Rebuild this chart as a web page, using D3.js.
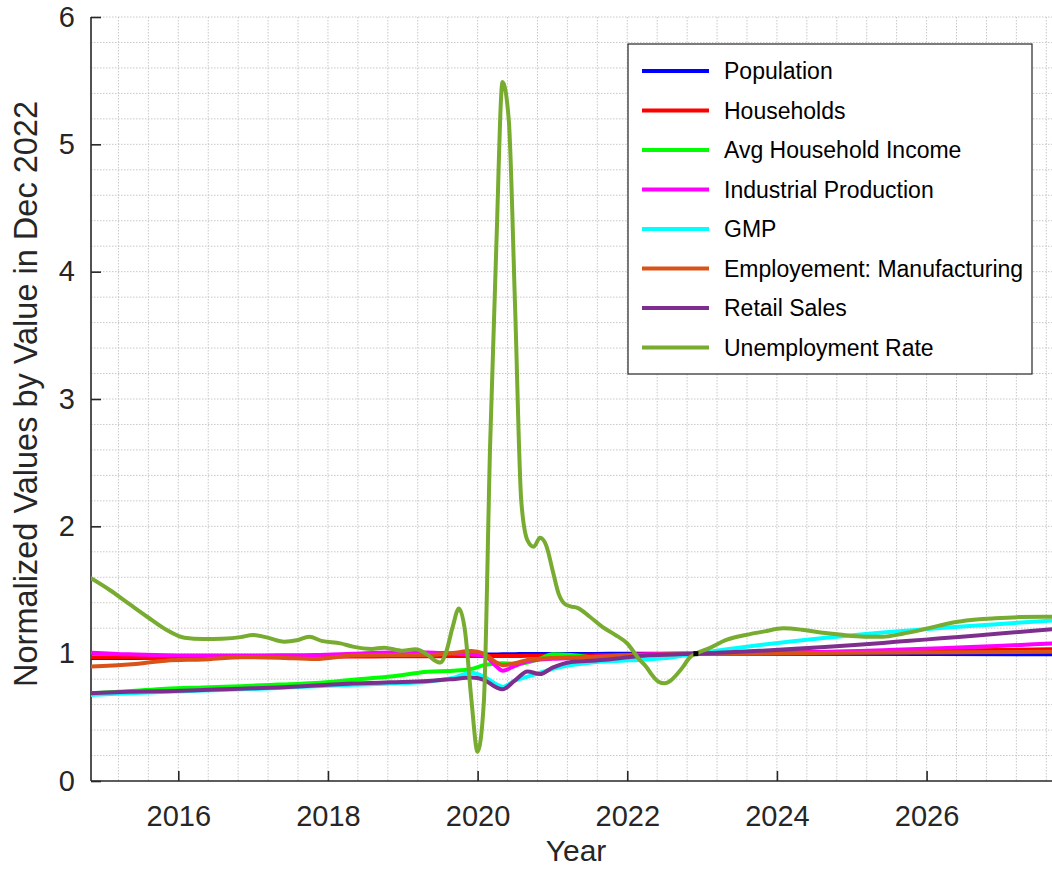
<!DOCTYPE html>
<html>
<head>
<meta charset="utf-8">
<script src="https://cdn.jsdelivr.net/npm/d3@7"></script>
<style>
  body { margin: 0; background: #fff; }
  text { font-family: "Liberation Sans", Arial, Helvetica, sans-serif; fill: #262626; }
</style>
</head>
<body>
<svg id="chart" width="1052" height="869"></svg>
<script>
// ---- data: normalized indicators (value / value in Dec 2022) ----
const seriesNames = ["Population", "Households", "Avg Household Income", "Industrial Production",
                     "GMP", "Employement: Manufacturing", "Retail Sales", "Unemployment Rate"];
const seriesColors = ["#0000ff", "#ff0000", "#00ff00", "#ff00ff", "#00ffff", "#d95319", "#7e2f8e", "#77ac30"];

// observation months shared by the first seven indicators
const months = ["2014-11", "2015-05", "2015-11", "2016-05", "2016-11", "2017-05", "2017-11", "2018-05",
                "2018-11", "2019-05", "2019-09", "2019-12", "2020-02", "2020-04", "2020-05", "2020-07",
                "2020-09", "2020-11", "2021-01", "2021-04", "2021-08", "2021-12", "2022-04", "2022-08",
                "2022-12", "2027-12"];

const population = [0.965, 0.966, 0.968, 0.970, 0.973, 0.976, 0.979, 0.982, 0.985, 0.988, 0.990, 0.992, 0.993,
                    0.994, 0.995, 0.996, 0.997, 0.997, 0.998, 0.998, 0.998, 0.999, 0.999, 1.000, 1.000, 0.995];
const households = [0.972, 0.972, 0.973, 0.974, 0.975, 0.976, 0.977, 0.978, 0.979, 0.980, 0.981, 0.982, 0.982,
                    0.982, 0.982, 0.982, 0.983, 0.983, 0.984, 0.985, 0.987, 0.990, 0.994, 0.997, 1.000, 1.036];
const avgHouseholdIncome = [0.690, 0.705, 0.725, 0.735, 0.745, 0.757, 0.770, 0.795, 0.820, 0.858, 0.865, 0.880, 0.910,
                    0.922, 0.924, 0.920, 0.930, 0.960, 0.995, 0.990, 0.970, 0.975, 0.985, 0.990, 1.000, null];
const industrialProduction = [1.008, 0.995, 0.988, 0.985, 0.985, 0.987, 0.990, 1.000, 1.010, 1.010, 1.000, 0.995, 0.985,
                    0.900, 0.866, 0.905, 0.940, 0.955, 0.960, 0.965, 0.975, 0.985, 0.995, 1.000, 1.000, 1.085];
const gmp = [0.675, 0.690, 0.700, 0.710, 0.720, 0.730, 0.745, 0.755, 0.765, 0.780, 0.810, 0.850, 0.820,
             0.760, 0.740, 0.790, 0.820, 0.850, 0.880, 0.910, 0.935, 0.945, 0.955, 0.970, 1.000, 1.270];
const employmentManufacturing = [0.900, 0.915, 0.945, 0.955, 0.972, 0.968, 0.958, 0.985, 0.990, 0.990, 1.005, 1.020, 1.000,
                    0.930, 0.910, 0.925, 0.950, 0.960, 0.965, 0.970, 0.975, 0.985, 0.990, 0.995, 1.000, 1.016];
const retailSales = [0.690, 0.700, 0.705, 0.715, 0.725, 0.735, 0.750, 0.765, 0.775, 0.785, 0.800, 0.813, 0.795,
                     0.735, 0.720, 0.790, 0.860, 0.840, 0.890, 0.935, 0.947, 0.965, 0.985, 0.993, 1.000, 1.204];

// unemployment rate has its own, denser set of months
const unempMonths = ["2014-11", "2015-02", "2015-05", "2015-08", "2015-11", "2016-02", "2016-05", "2016-08",
                     "2016-11", "2017-01", "2017-03", "2017-06", "2017-08", "2017-10", "2017-12", "2018-03",
                     "2018-05", "2018-08", "2018-10", "2019-01", "2019-03", "2019-05", "2019-06", "2019-07",
                     "2019-08", "2019-09", "2019-10", "2019-11", "2019-12", "2020-01", "2020-02", "2020-03",
                     "2020-04", "2020-05", "2020-06", "2020-07", "2020-08", "2020-09", "2020-10", "2020-11",
                     "2020-12", "2021-01", "2021-02", "2021-03", "2021-04", "2021-05", "2021-07", "2021-09",
                     "2021-11", "2022-01", "2022-03", "2022-04", "2022-05", "2022-06", "2022-07", "2022-08",
                     "2022-09", "2022-10", "2022-11", "2022-12", "2023-02", "2023-05", "2023-08", "2023-11",
                     "2024-02", "2024-05", "2024-08", "2024-11", "2025-03", "2025-06", "2025-09", "2025-12",
                     "2026-03", "2026-06", "2026-09", "2026-12", "2027-04", "2027-08", "2027-12"];
const unemploymentRate = [1.592, 1.500, 1.395, 1.290, 1.190, 1.125, 1.115, 1.118, 1.130, 1.147, 1.130, 1.094,
                          1.105, 1.133, 1.100, 1.081, 1.055, 1.037, 1.047, 1.023, 1.034, 0.990, 0.950, 0.930,
                          1.020, 1.210, 1.355, 1.170, 0.640, 0.230, 0.620, 2.630, 4.200, 5.490, 5.190, 3.740,
                          2.200, 1.890, 1.840, 1.910, 1.850, 1.660, 1.470, 1.390, 1.370, 1.360, 1.290, 1.210,
                          1.150, 1.080, 0.950, 0.900, 0.830, 0.780, 0.767, 0.790, 0.840, 0.900, 0.970, 1.000,
                          1.040, 1.110, 1.147, 1.175, 1.199, 1.188, 1.167, 1.150, 1.133, 1.133, 1.155, 1.185,
                          1.220, 1.250, 1.268, 1.278, 1.287, 1.290, 1.290];

const referenceMonth = "2022-12";
const xTickYears = [2016, 2018, 2020, 2022, 2024, 2026];
const yTickValues = [0, 1, 2, 3, 4, 5, 6];

// ---- helpers ----
const toYear = s => +s.slice(0, 4) + (+s.slice(5, 7) - 1) / 12;

const seriesValues = [population, households, avgHouseholdIncome, industrialProduction,
                      gmp, employmentManufacturing, retailSales, unemploymentRate];
const series = seriesNames.map((name, i) => {
  const m = i === 7 ? unempMonths : months;
  return {
    name, color: seriesColors[i],
    points: m.map((d, j) => ({ t: toYear(d), v: seriesValues[i][j] })).filter(p => p.v != null)
  };
});

// ---- layout ----
const svg = d3.select("#chart");
const plot = { left: 91, right: 1070, top: 17, bottom: 781 };

const x = d3.scaleLinear().domain([toYear("2014-11"), toYear("2027-12")]).range([plot.left, plot.right]);
const y = d3.scaleLinear().domain([0, 6]).range([plot.bottom, plot.top]);

svg.append("defs").append("clipPath").attr("id", "plotClip")
  .append("rect").attr("x", plot.left).attr("y", plot.top - 2)
  .attr("width", plot.right - plot.left).attr("height", plot.bottom - plot.top + 2);

// ---- grid (dotted) ----
const grid = svg.append("g").attr("stroke", "#c8c8c8").attr("stroke-width", 1)
  .attr("stroke-dasharray", "1.5,1.5");
const gridX = d3.range(-5, 30).map(k => 2016 + 0.4 * k).filter(t => x(t) > plot.left + 1 && x(t) <= plot.right);
const gridY = d3.range(1, 31).map(k => k * 0.2);
grid.selectAll(".gx").data(gridX).join("line")
  .attr("x1", d => x(d)).attr("x2", d => x(d)).attr("y1", plot.top).attr("y2", plot.bottom);
grid.selectAll(".gy").data(gridY).join("line")
  .attr("x1", plot.left).attr("x2", plot.right).attr("y1", d => y(d)).attr("y2", d => y(d));

// ---- axes ----
const xAxis = d3.axisBottom(x).tickValues(xTickYears).tickFormat(d3.format("d")).tickSize(-10).tickPadding(24);
const yAxis = d3.axisLeft(y).tickValues(yTickValues).tickFormat(d3.format("d")).tickSize(-10).tickPadding(16);

const gx = svg.append("g").attr("transform", `translate(0,${plot.bottom})`).call(xAxis);
const gy = svg.append("g").attr("transform", `translate(${plot.left},0)`).call(yAxis);
[gx, gy].forEach(g => {
  g.select(".domain").attr("stroke", "#262626").attr("stroke-width", 1.6);
  g.selectAll(".tick line").attr("stroke", "#262626").attr("stroke-width", 1.6);
  g.selectAll(".tick text").attr("fill", "#262626").style("font-size", "29px")
    .style("font-family", "'Liberation Sans', Arial, sans-serif");
});
gx.select(".domain").attr("d", `M${plot.left},0H${plot.right}`);
gy.select(".domain").attr("d", `M0,${plot.top}V${plot.bottom}`);

// axis titles
svg.append("text").attr("x", 576).attr("y", 861)
  .attr("text-anchor", "middle").style("font-size", "30px").text("Year");
svg.append("text").attr("transform", `translate(37,394) rotate(-90)`)
  .attr("text-anchor", "middle").style("font-size", "32.5px").text("Normalized Values by Value in Dec 2022");

// ---- series lines ----
const line = d3.line().x(p => x(p.t)).y(p => y(p.v)).curve(d3.curveMonotoneX);
const lines = svg.append("g").attr("clip-path", "url(#plotClip)");
lines.selectAll("path").data(series).join("path")
  .attr("d", d => line(d.points))
  .attr("fill", "none").attr("stroke", d => d.color).attr("stroke-width", 4)
  .attr("stroke-linejoin", "round").attr("stroke-linecap", "round");

// reference point: every series equals 1 in Dec 2022
lines.append("rect")
  .attr("x", x(toYear(referenceMonth)) - 2.5).attr("y", y(1) - 2.5)
  .attr("width", 5).attr("height", 5).attr("fill", "#000");

// ---- legend ----
const legend = svg.append("g");
legend.append("rect").attr("x", 628).attr("y", 44).attr("width", 404).attr("height", 330)
  .attr("fill", "#fff").attr("stroke", "#262626").attr("stroke-width", 1.2);
const rows = legend.selectAll(".row").data(series).join("g")
  .attr("transform", (d, i) => `translate(0,${71 + i * 39.5})`);
rows.append("line").attr("x1", 642).attr("x2", 709).attr("y1", 0).attr("y2", 0)
  .attr("stroke", d => d.color).attr("stroke-width", 4);
rows.append("text").attr("x", 724).attr("y", 0).attr("dy", "0.35em")
  .style("font-size", "23px").style("fill", "#000").text(d => d.name);
</script>
</body>
</html>
